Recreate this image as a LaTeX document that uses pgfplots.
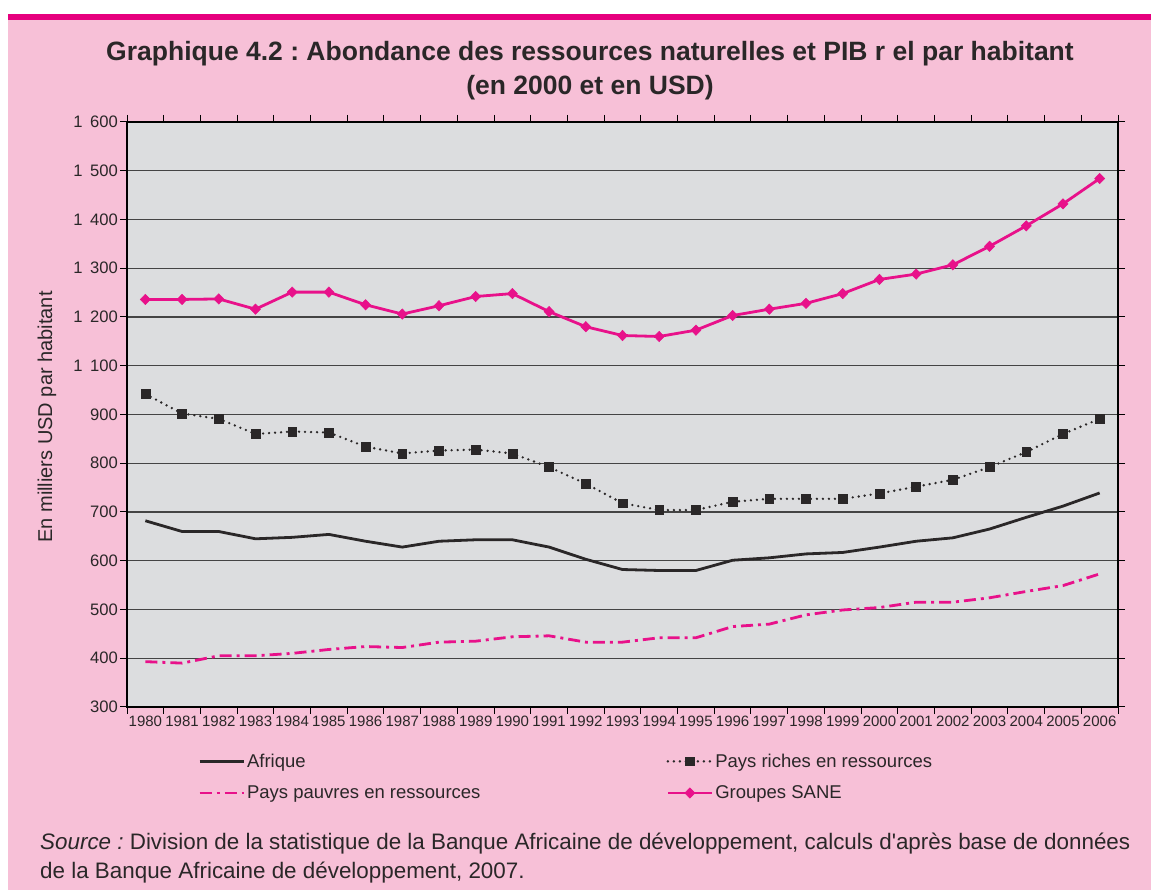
\documentclass[border=0pt]{standalone}
\usepackage{pgfplots}
\pgfplotsset{compat=1.18}
\usepackage{pgfplotstable}
\usepackage{fontspec}
\setmainfont{Liberation Sans}
\frenchspacing
\definecolor{bgpink}{HTML}{F7C0D7}
\definecolor{barmag}{HTML}{E6007E}
\definecolor{sane}{HTML}{E8118A}
\definecolor{plotbg}{HTML}{DCDDDF}
\definecolor{txt}{HTML}{2A2728}
\definecolor{gridc}{HTML}{444444}

% Values, in the units of its axis labels
% (the axis of the reference skips "1 000": its label after 900 is 1 100)
\pgfplotstableread{
year afr  riches pauvres sane
1980 682  942    393     1236
1981 660  902    390     1236
1982 660  891    405     1237
1983 645  860    405     1216
1984 648  865    410     1251
1985 654  863    418     1251
1986 640  834    424     1225
1987 628  820    422     1206
1988 640  826    433     1223
1989 643  828    435     1242
1990 643  820    444     1248
1991 628  792    446     1211
1992 603  758    433     1180
1993 582  718    433     1162
1994 580  704    442     1160
1995 580  704    442     1173
1996 601  721    465     1203
1997 606  727    470     1216
1998 614  727    489     1228
1999 617  727    499     1248
2000 628  738    504     1277
2001 640  752    515     1288
2002 647  766    515     1307
2003 665  792    524     1345
2004 689  823    537     1387
2005 712  860    549     1432
2006 739  891    573     1484
}\datatable

\begin{document}
\begin{tikzpicture}[x=1bp,y=1bp]
\fill[white] (0,0) rectangle (1151,890);
\fill[bgpink] (8,0) rectangle (1151,872);
\fill[barmag] (8,870) rectangle (1151,876);
\useasboundingbox (0,0) rectangle (1151,890);

\node[font=\fontsize{26.5bp}{30bp}\selectfont\bfseries, text=txt] at (590,836)
  {Graphique 4.2 : Abondance des ressources naturelles et PIB r el par habitant};
\node[font=\fontsize{26.5bp}{30bp}\selectfont\bfseries, text=txt] at (590,802)
  {(en 2000 et en USD)};

\begin{axis}[
  at={(127bp,183bp)}, anchor=south west,
  scale only axis, width=991bp, height=585bp,
  xmin=1979.5, xmax=2006.5,
  ymin=300, ymax=1600,
  y coord trafo/.code={\pgfmathparse{#1>=1050?#1-100:#1}},
  y coord inv trafo/.code={\pgfmathparse{#1>=1000?#1+100:#1}},
  axis background/.style={fill=plotbg},
  axis line style={line width=1.6bp, black},
  tick align=outside,
  major tick length=7bp,
  tick style={line width=1bp, black},
  xtick={1979.5,1980.5,1981.5,1982.5,1983.5,1984.5,1985.5,1986.5,1987.5,1988.5,1989.5,1990.5,1991.5,1992.5,1993.5,1994.5,1995.5,1996.5,1997.5,1998.5,1999.5,2000.5,2001.5,2002.5,2003.5,2004.5,2005.5,2006.5},
  xticklabels={1980,1981,1982,1983,1984,1985,1986,1987,1988,1989,1990,1991,1992,1993,1994,1995,1996,1997,1998,1999,2000,2001,2002,2003,2004,2005,2006,{}},
  xticklabel style={xshift=18.35bp, font=\fontsize{15bp}{17bp}\selectfont, text=txt, inner sep=2bp},
  ytick={300,400,500,600,700,800,900,1100,1200,1300,1400,1500,1600},
  yticklabels={300,400,500,600,700,800,900,1\hspace{0.45em}100,1\hspace{0.45em}200,1\hspace{0.45em}300,1\hspace{0.45em}400,1\hspace{0.45em}500,1\hspace{0.45em}600},
  yticklabel style={font=\fontsize{16.6bp}{18bp}\selectfont, text=txt, inner sep=2bp},
  ymajorgrids,
  grid style={line width=1.2bp, gridc},
  legend columns=2,
  legend cell align=left,
  legend style={
    at={(0.0687,-0.073)}, anchor=north west,
    draw=none, fill=none,
    font=\fontsize{18.5bp}{21bp}\selectfont, text=txt,
    row sep=13bp,
    nodes={inner sep=2bp},
    /tikz/column 2/.style={column sep=184bp},
  },
  legend image code/.code={\draw[mark repeat=2,mark phase=2] plot coordinates {(0bp,0bp) (22bp,0bp) (44bp,0bp)};},
]
\addplot[line width=2.8bp, color=txt, mark=none] table[x=year, y=afr] {\datatable};
\addlegendentry{Afrique}
\addplot[line width=2.6bp, color=txt, dash pattern=on 0pt off 6bp, line cap=round,
  mark=square*, mark size=4.4bp, mark options={solid, fill=txt, draw=txt, line width=0.5bp}]
  table[x=year, y=riches] {\datatable};
\addlegendentry{Pays riches en ressources}
\addplot[line width=2.8bp, color=sane, dash pattern=on 12bp off 5bp on 3bp off 5bp, mark=none]
  table[x=year, y=pauvres] {\datatable};
\addlegendentry{Pays pauvres en ressources}
\addplot[line width=2.8bp, color=sane, mark=diamond*, mark size=5.2bp,
  mark options={solid, fill=sane, draw=sane, xscale=1.3, line width=0.5bp}]
  table[x=year, y=sane] {\datatable};
\addlegendentry{Groupes SANE}
\end{axis}

\node[rotate=90, font=\fontsize{20bp}{24bp}\selectfont, text=txt] at (47,473)
  {En milliers USD par habitant};
\node[anchor=base west, inner sep=0, font=\fontsize{22.4bp}{26bp}\selectfont, text=txt] at (40,40)
  {\textit{Source :} Division de la statistique de la Banque Africaine de développement, calculs d\textquotesingle après base de données};
\node[anchor=base west, inner sep=0, font=\fontsize{22.4bp}{26bp}\selectfont, text=txt] at (40,11)
  {de la Banque Africaine de développement, 2007.};
\end{tikzpicture}
\end{document}
